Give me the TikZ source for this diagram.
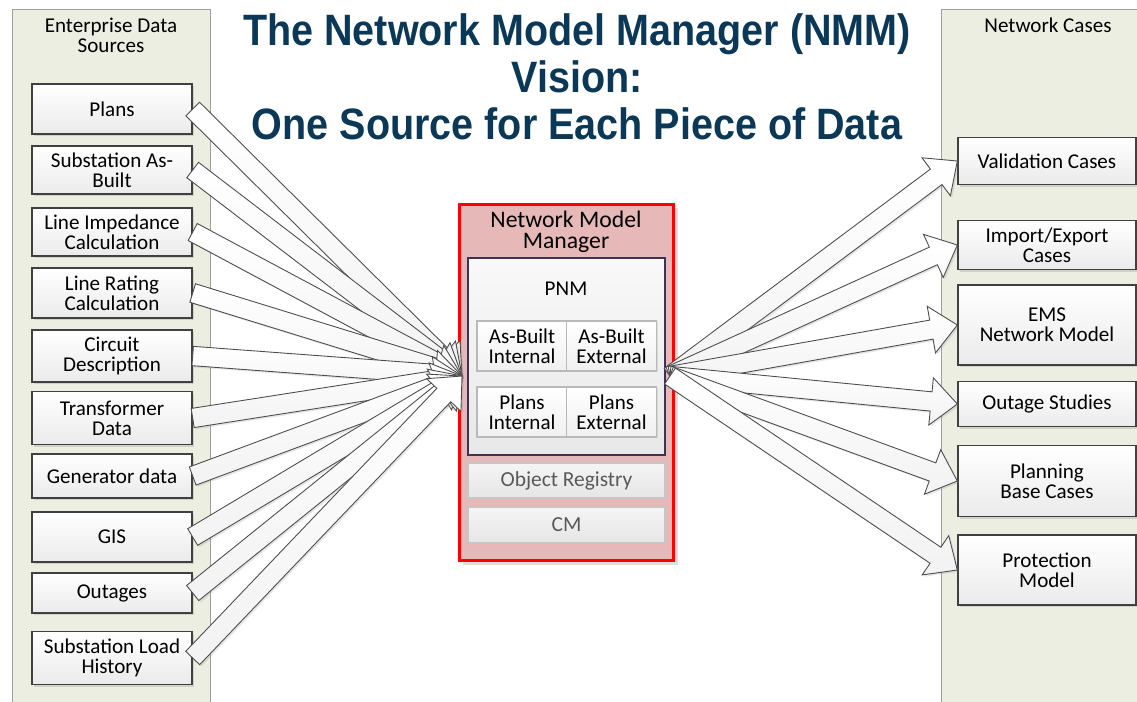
\documentclass[tikz,border=0pt]{standalone}
\usepackage{fontspec}
\setmainfont{Carlito}
\newfontfamily\titlefont{Liberation Sans}[FakeStretch=0.9]
\usetikzlibrary{shadows, calc}

\definecolor{titleblue}{RGB}{10,56,86}
\definecolor{panelgreen}{RGB}{235,238,224}
\definecolor{nmmpink}{RGB}{230,185,184}
\definecolor{pnmframe}{RGB}{64,49,82}

% sageata lata: #1 = coada, #2 = varful
\newcommand{\fatarrow}[2]{%
    \coordinate (fa-base) at ($(#2)!15pt!(#1)$);
    \draw[bigarrow] ($(#1)!5.5pt!90:(#2)$) -- ($(fa-base)!5.5pt!-90:(#1)$)
    -- ($(fa-base)!13.5pt!-90:(#1)$) -- (#2) -- ($(fa-base)!13.5pt!90:(#1)$)
    -- ($(fa-base)!5.5pt!90:(#1)$) -- ($(#1)!5.5pt!-90:(#2)$) -- cycle;
}

\begin{document}
\begin{tikzpicture}[
        x=0.02cm, y=-0.02cm, % 1 unitate = 1 pixel
        % --- STILURI ---
        % 1. Coloanele laterale
        panel/.style={
                draw=gray!75,
                line width=0.8pt,
                fill=panelgreen
            },
        paneltitle/.style={
                align=center,
                font=\fontsize{12}{11.5}\selectfont
            },
        % 2. Cutiile sursa / destinatie
        srcbox/.style={
                draw=black!75,
                line width=0.8pt,
                top color=white,
                bottom color=gray!16,
                align=center,
                inner sep=1pt,
                drop shadow={opacity=0.25, shadow xshift=1.2pt, shadow yshift=-1.2pt},
                font=\fontsize{12}{11.5}\selectfont
            },
        % 3. Managerul central
        nmmbox/.style={
                draw=red,
                line width=1.7pt,
                fill=nmmpink,
                drop shadow={opacity=0.25}
            },
        pnmbox/.style={
                draw=pnmframe,
                line width=0.9pt,
                top color=gray!5,
                bottom color=gray!18
            },
        cell/.style={
                draw=gray!55,
                line width=0.8pt,
                top color=white,
                bottom color=gray!12,
                minimum width=1.8cm,
                minimum height=1cm,
                align=center,
                inner sep=1pt,
                drop shadow={opacity=0.2, shadow xshift=0.8pt, shadow yshift=-0.8pt},
                font=\fontsize{12}{11.5}\selectfont
            },
        regbox/.style={
                draw=gray!45,
                line width=0.8pt,
                top color=gray!8,
                bottom color=gray!20,
                minimum width=3.94cm,
                text=black!65,
                font=\fontsize{12.2}{11.5}\selectfont
            },
        % 4. Sagetile late
        bigarrow/.style={
                draw=black!70,
                line width=0.5pt,
                top color=white,
                bottom color=gray!10,
                drop shadow={opacity=0.2, shadow xshift=1pt, shadow yshift=-1pt}
            }
    ]
    \useasboundingbox (0,0) rectangle (1137,701);

    % 1. Coloanele
    \node[panel, anchor=north west, minimum width=3.96cm, minimum height=14.1cm] (srcpanel) at (12,9) {};
    \node[paneltitle] (srctitle) at (111,35) {Enterprise Data\\Sources};
    \node[panel, anchor=north west, minimum width=4.3cm, minimum height=14.1cm] (casepanel) at (941,9) {};
    \node[paneltitle] (casetitle) at (1048,25) {Network Cases};

    % Titlul
    \node[align=center, text=titleblue, font=\titlefont\bfseries\fontsize{25}{26.7}\selectfont] (heading) at (577,77)
    {The Network Model Manager (NMM)\\Vision:\\One Source for Each Piece of Data};

    % 2. Sursele de date
    \node[srcbox, minimum width=3.2cm, minimum height=1cm] (plans) at (112,109) {Plans};
    \node[srcbox, minimum width=3.2cm, minimum height=0.96cm] (asbuilt) at (112,170) {Substation As-\\Built};
    \node[srcbox, minimum width=3.2cm, minimum height=0.96cm] (impedance) at (112,232) {Line Impedance\\Calculation};
    \node[srcbox, minimum width=3.2cm, minimum height=1cm] (rating) at (112,293) {Line Rating\\Calculation};
    \node[srcbox, minimum width=3.2cm, minimum height=1.04cm] (circuit) at (112,356) {Circuit\\Description};
    \node[srcbox, minimum width=3.2cm, minimum height=1.06cm] (transformer) at (112,418) {Transformer\\Data};
    \node[srcbox, minimum width=3.2cm, minimum height=0.88cm] (generator) at (112,476) {Generator data};
    \node[srcbox, minimum width=3.2cm, minimum height=1cm] (gis) at (112,537) {GIS};
    \node[srcbox, minimum width=3.2cm, minimum height=0.8cm] (outages) at (112,593) {Outages};
    \node[srcbox, minimum width=3.2cm, minimum height=1.06cm] (loadhist) at (112,658) {Substation Load\\History};

    % 3. Cazurile de retea
    \node[srcbox, minimum width=3.56cm, minimum height=0.94cm] (validation) at (1047,161) {Validation Cases};
    \node[srcbox, minimum width=3.56cm, minimum height=0.98cm] (impexp) at (1047,245) {Import/Export\\Cases};
    \node[srcbox, minimum width=3.56cm, minimum height=1.6cm] (ems) at (1047,325) {EMS\\Network Model};
    \node[srcbox, minimum width=3.56cm, minimum height=0.9cm] (outstudy) at (1047,404) {Outage Studies};
    \node[srcbox, minimum width=3.56cm, minimum height=1.42cm] (planning) at (1047,481) {Planning\\Base Cases};
    \node[srcbox, minimum width=3.56cm, minimum height=1.4cm] (protection) at (1047,570) {Protection\\Model};

    % 4. Network Model Manager
    \node[nmmbox, minimum width=4.3cm, minimum height=7.14cm] (nmm) at (566.5,382.5) {};
    \node[paneltitle, font=\fontsize{13.5}{12}\selectfont] (nmmtitle) at (566,232) {Network Model\\Manager};
    \node[pnmbox, minimum width=3.94cm, minimum height=3.94cm] (pnm) at (566.5,356.5) {};
    \node[paneltitle] (pnmtitle) at (566,289) {PNM};
    \node[cell] (abint) at (522,346) {As-Built\\Internal};
    \node[cell] (abext) at (611.5,346) {As-Built\\External};
    \node[cell] (plint) at (522,412) {Plans\\Internal};
    \node[cell] (plext) at (611.5,412) {Plans\\External};
    \node[regbox, minimum height=0.7cm] (registry) at (566.5,480.5) {Object Registry};
    \node[regbox, minimum height=0.72cm] (cm) at (566.5,525) {CM};

    \coordinate (nmm-in) at (462,376);
    \coordinate (nmm-out) at (670,376);

    % 5. Sagetile spre manager
    \fatarrow{plans.east}{nmm-in}
    \fatarrow{asbuilt.east}{nmm-in}
    \fatarrow{impedance.east}{nmm-in}
    \fatarrow{rating.east}{nmm-in}
    \fatarrow{circuit.east}{nmm-in}
    \fatarrow{transformer.east}{nmm-in}
    \fatarrow{generator.east}{nmm-in}
    \fatarrow{gis.east}{nmm-in}
    \fatarrow{outages.east}{nmm-in}
    \fatarrow{loadhist.east}{nmm-in}

    % 6. Sagetile spre cazuri
    \fatarrow{nmm-out}{validation.west}
    \fatarrow{nmm-out}{impexp.west}
    \fatarrow{nmm-out}{ems.west}
    \fatarrow{nmm-out}{outstudy.west}
    \fatarrow{nmm-out}{planning.west}
    \fatarrow{nmm-out}{protection.west}

\end{tikzpicture}
\end{document}
